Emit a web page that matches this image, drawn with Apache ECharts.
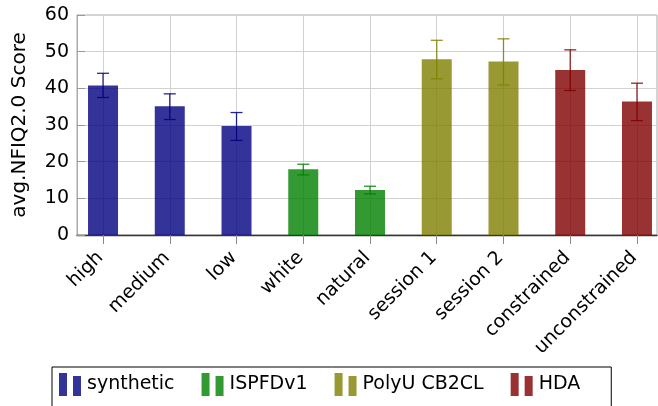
<!DOCTYPE html>
<html>
<head>
<meta charset="utf-8">
<script src="https://cdn.jsdelivr.net/npm/echarts@6/dist/echarts.min.js"></script>
<style>html,body{margin:0;padding:0;background:#fff}#c{width:658px;height:406px}</style>
</head>
<body>
<div id="c"></div>
<script>
const categories = ['high','medium','low','white','natural','session 1','session 2','constrained','unconstrained'];
const groupNames = ['synthetic','ISPFDv1','PolyU CB2CL','HDA'];
const groupOf = [0,0,0,1,1,2,2,3,3];
const means = [40.8, 35.1, 29.7, 17.9, 12.3, 47.9, 47.3, 45.0, 36.4];
const errUpper = [44.1, 38.5, 33.4, 19.3, 13.3, 53.1, 53.5, 50.5, 41.4];
const errLower = [37.5, 31.5, 25.8, 16.4, 11.2, 42.6, 40.9, 39.4, 31.2];
const yTicks = [0,10,20,30,40,50,60];

const baseColors = ['#000080','#008000','#808000','#800000'];
const FONT = 'DejaVu Sans';
const idx = categories.map((c,i)=>i);

const series = [];
groupNames.forEach((name,g)=>{
  const pts = idx.filter(i=>groupOf[i]===g);
  series.push({
    name: name, type: 'bar', barWidth: 30, barGap: '-100%',
    itemStyle: {color: baseColors[g], opacity: 0.8},
    data: pts.map(i=>[i, means[i]]), z: 2
  });
});
groupNames.forEach((name,g)=>{
  const pts = idx.filter(i=>groupOf[i]===g);
  series.push({
    name: name + ' err', type: 'custom', z: 5,
    data: pts.map(i=>[i, errLower[i], errUpper[i]]),
    renderItem: function(params, api){
      const x = api.value(0);
      const lo = api.coord([x, api.value(1)]);
      const hi = api.coord([x, api.value(2)]);
      const w = 6;
      const st = {stroke: baseColors[g], lineWidth: 1.3, opacity: 0.85};
      return {type:'group', children:[
        {type:'line', shape:{x1:lo[0],y1:lo[1],x2:hi[0],y2:hi[1]}, style:st},
        {type:'line', shape:{x1:lo[0]-w,y1:lo[1],x2:lo[0]+w,y2:lo[1]}, style:st},
        {type:'line', shape:{x1:hi[0]-w,y1:hi[1],x2:hi[0]+w,y2:hi[1]}, style:st}
      ]};
    }
  });
});

const chart = echarts.init(document.getElementById('c'), null, {renderer:'canvas'});
chart.setOption({
  animation: false,
  textStyle: {fontFamily: FONT},
  grid: {left: 77, top: 15, width: 580, height: 220, show: true, borderColor: '#aaaaaa', borderWidth: 1, containLabel: false},
  legend: {
    data: groupNames, left: 52, top: 367, orient: 'horizontal',
    padding: [6, 31, 20, 7], itemGap: 27, itemWidth: 22, itemHeight: 23,
    icon: 'path://M0,0H8V23H0Z M14,3H22V23H14Z',
    borderColor: '#000', borderWidth: 1, borderRadius: 0,
    textStyle: {fontFamily: FONT, fontSize: 19, color: '#000', padding: [0,0,0,1]},
    selectedMode: false
  },
  xAxis: {
    type: 'value', min: -0.39, max: 8.3,
    axisLine: {show: true, onZero: false, lineStyle: {color: '#333', width: 1.3}},
    axisTick: {show: true, customValues: idx, length: 9, inside: false, lineStyle: {color: '#888'}},
    axisLabel: {customValues: idx, rotate: 45, margin: 17, padding: [0, 4, 0, 0], fontFamily: FONT, fontSize: 19, color: '#000',
      formatter: v => categories[Math.round(v)]},
    splitLine: {show: true, lineStyle: {color: '#d2d2d2', width: 1}}
  },
  yAxis: {
    type: 'value', min: yTicks[0], max: yTicks[yTicks.length-1], interval: 10,
    name: 'avg.NFIQ2.0 Score', nameLocation: 'middle', nameGap: 47,
    nameTextStyle: {fontFamily: FONT, fontSize: 20, color: '#000'},
    axisLine: {show: true, onZero: false, lineStyle: {color: '#aaaaaa'}},
    axisTick: {show: true, inside: true, length: 8, lineStyle: {color: '#999'}},
    axisLabel: {margin: 8, fontFamily: FONT, fontSize: 19, color: '#000'},
    splitLine: {show: true, lineStyle: {color: '#d2d2d2', width: 1}}
  },
  series: series
});
</script>
</body>
</html>
